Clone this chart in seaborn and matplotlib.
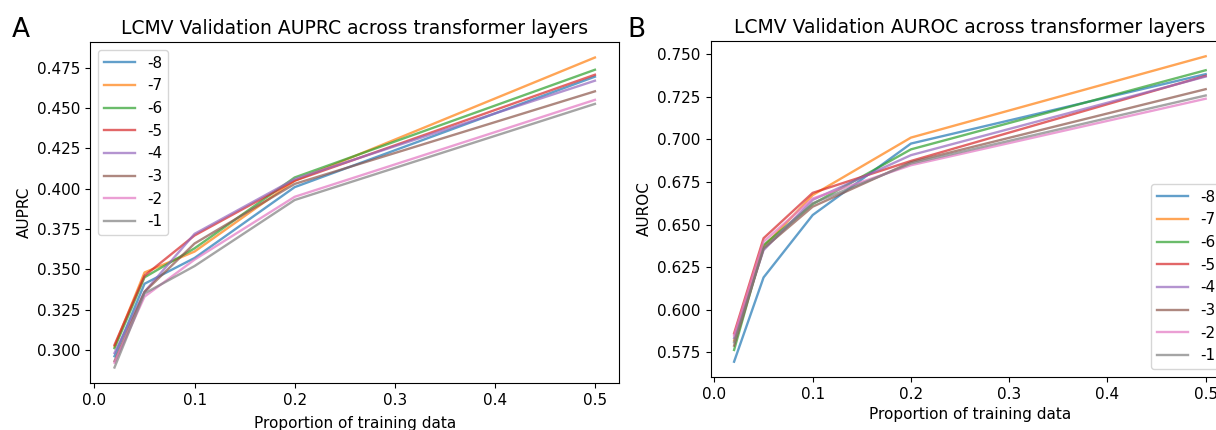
import matplotlib
matplotlib.use("Agg")
import matplotlib.pyplot as plt
import seaborn as sns
import pandas as pd

proportions = [0.02, 0.05, 0.1, 0.2, 0.5]
layers = ["-8", "-7", "-6", "-5", "-4", "-3", "-2", "-1"]

auprc = {
    "-8": [0.296, 0.341, 0.357, 0.401, 0.4696],
    "-7": [0.302, 0.348, 0.361, 0.405, 0.4815],
    "-6": [0.301, 0.345, 0.363, 0.407, 0.4739],
    "-5": [0.303, 0.346, 0.371, 0.405, 0.4708],
    "-4": [0.298, 0.336, 0.372, 0.406, 0.4671],
    "-3": [0.293, 0.336, 0.366, 0.403, 0.4605],
    "-2": [0.292, 0.333, 0.356, 0.395, 0.4552],
    "-1": [0.289, 0.335, 0.352, 0.393, 0.4527],
}

auroc = {
    "-8": [0.5696, 0.619, 0.6556, 0.6975, 0.7382],
    "-7": [0.5820, 0.637, 0.6673, 0.7010, 0.7487],
    "-6": [0.5765, 0.638, 0.6620, 0.6941, 0.7405],
    "-5": [0.5862, 0.642, 0.6686, 0.6873, 0.7372],
    "-4": [0.5835, 0.635, 0.6645, 0.6907, 0.7368],
    "-3": [0.5790, 0.636, 0.6605, 0.6866, 0.7294],
    "-2": [0.5850, 0.640, 0.6653, 0.6848, 0.7238],
    "-1": [0.5810, 0.636, 0.6625, 0.6858, 0.7257],
}

def long_df(d):
    rows = []
    for layer in layers:
        for p, v in zip(proportions, d[layer]):
            rows.append({"prop": p, "value": v, "layer": layer})
    return pd.DataFrame(rows)

plt.rcParams["font.family"] = ["DejaVu Sans"]
plt.rcParams["font.size"] = 11

fig = plt.figure(figsize=(12.16, 4.3), dpi=100)
ax1 = fig.add_axes([0.0744, 0.1093, 0.4346, 0.793])
ax2 = fig.add_axes([0.5843, 0.1233, 0.4266, 0.7814])

palette = sns.color_palette("tab10", 8)

for ax, data, ylab, title, loc, lpad in [
    (ax1, auprc, "AUPRC", "LCMV Validation AUPRC across transformer layers", "upper left", 6),
    (ax2, auroc, "AUROC", "LCMV Validation AUROC across transformer layers", "lower right", 4),
]:
    df = long_df(data)
    sns.lineplot(data=df, x="prop", y="value", hue="layer", hue_order=layers,
                 palette=palette, alpha=0.7, linewidth=1.7, ax=ax)
    handles, labels = ax.get_legend_handles_labels()
    for h in handles:
        h.set_alpha(0.7)
    ax.legend(handles, labels, loc=loc, fontsize=11)
    ax.set_xlabel("Proportion of training data", fontsize=11, labelpad=lpad)
    ax.set_ylabel(ylab, fontsize=11)
    ax.set_title(title, fontsize=13.5)
    ax.tick_params(labelsize=11)
    ax.set_xticks([0.0, 0.1, 0.2, 0.3, 0.4, 0.5])

fig.text(0.010, 0.915, "A", fontsize=19)
fig.text(0.516, 0.915, "B", fontsize=19)

fig.savefig("out.png", dpi=100)
